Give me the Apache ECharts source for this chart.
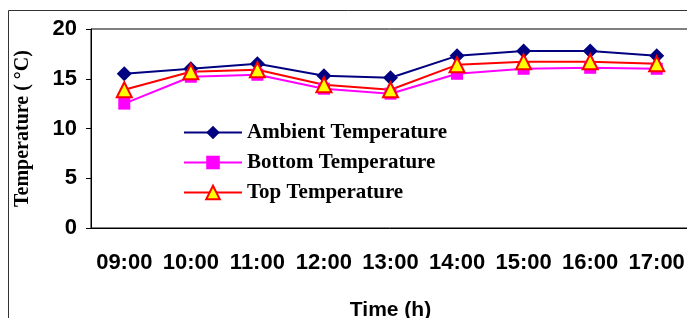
<!DOCTYPE html>
<html>
<head>
  <meta charset="utf-8">
  <title>ECharts</title>
  <script src="https://cdn.jsdelivr.net/npm/echarts@6/dist/echarts.min.js"></script>
</head>
<style>
  * { padding: 0; margin: 0; }
  #main { width: 687px; height: 318px; overflow: hidden; position: absolute; }
</style>
<body>
  <div id="main"></div>
  <script type="text/javascript">
    // data
    var hours = ['09:00', '10:00', '11:00', '12:00', '13:00', '14:00', '15:00', '16:00', '17:00'];
    var ambient = [15.5, 16.0, 16.5, 15.3, 15.1, 17.3, 17.8, 17.8, 17.3];
    var bottom = [12.5, 15.2, 15.4, 14.0, 13.5, 15.5, 16.0, 16.1, 16.0];
    var top_ = [13.9, 15.7, 15.9, 14.4, 13.9, 16.4, 16.7, 16.7, 16.5];

    var myChart = echarts.init(document.getElementById('main'));

    var option = {
      backgroundColor: '#fff',
      animation: false,
      graphic: [{
        type: 'polyline',
        shape: { points: [[8.5, 330], [8.5, 10.5], [700, 10.5]] },
        style: { stroke: '#333', lineWidth: 1, fill: null }
      }],
      grid: {
        left: 91, right: -3, top: 29, bottom: 90,
        outerBoundsMode: 'none',
        show: true, borderColor: '#000', borderWidth: 1
      },
      legend: {
        orient: 'vertical',
        left: 178, top: 117,
        itemWidth: 58, itemHeight: 17, itemGap: 9,
        textStyle: { fontFamily: 'Liberation Serif', fontWeight: 'bold', fontSize: 21, color: '#000' },
        data: ['Ambient Temperature', 'Bottom Temperature', 'Top Temperature']
      },
      xAxis: {
        type: 'category',
        data: hours,
        boundaryGap: true,
        name: 'Time (h)',
        nameLocation: 'middle',
        nameGap: 72,
        nameTextStyle: { fontFamily: 'Liberation Sans', fontWeight: 'bold', fontSize: 21, color: '#000' },
        axisLine: { lineStyle: { color: '#000', width: 1 } },
        axisTick: { length: 6, interval: 0, lineStyle: { color: '#000' } },
        axisLabel: { interval: 0, margin: 24, fontFamily: 'Liberation Sans', fontWeight: 'bold', fontSize: 22, color: '#000' }
      },
      yAxis: {
        type: 'value',
        min: 0, max: 20, interval: 5,
        name: 'Temperature ( °C)',
        nameLocation: 'middle',
        nameGap: 58,
        nameTextStyle: { fontFamily: 'Liberation Serif', fontWeight: 'bold', fontSize: 20, color: '#000' },
        axisLine: { show: true, lineStyle: { color: '#000', width: 1 } },
        axisTick: { show: true, length: 5, lineStyle: { color: '#000' } },
        splitLine: { show: false },
        axisLabel: { margin: 14, fontFamily: 'Liberation Sans', fontWeight: 'bold', fontSize: 22, color: '#000' }
      },
      series: [{
        name: 'Ambient Temperature',
        type: 'line',
        data: ambient,
        symbol: 'diamond',
        symbolSize: 15,
        lineStyle: { color: '#000080', width: 2 },
        itemStyle: { color: '#000080' }
      }, {
        name: 'Bottom Temperature',
        type: 'line',
        data: bottom,
        symbol: 'rect',
        symbolSize: 12,
        lineStyle: { color: '#ff00ff', width: 2 },
        itemStyle: { color: '#ff00ff' }
      }, {
        name: 'Top Temperature',
        type: 'line',
        data: top_,
        symbol: 'triangle',
        symbolSize: 15,
        lineStyle: { color: '#ff0000', width: 2 },
        itemStyle: { color: '#ffff00', borderColor: '#ff0000', borderWidth: 2 }
      }]
    };

    myChart.setOption(option);
  </script>
</body>
</html>
